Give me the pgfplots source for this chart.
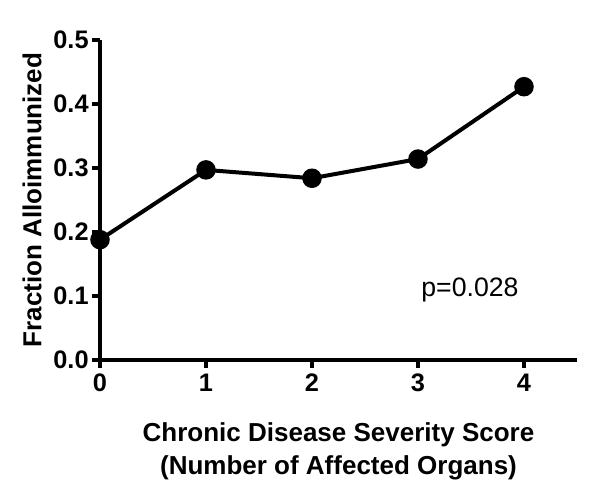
\documentclass[border=0pt]{standalone}
\usepackage{pgfplots}
\pgfplotsset{compat=1.18}
\usepackage{fontspec}
\setmainfont{Liberation Sans}
\begin{document}
\begin{tikzpicture}
\begin{axis}[
  scale only axis,
  width=357.75pt, height=240pt,
  xmin=0, xmax=4.5, ymin=0, ymax=0.5,
  axis x line*=bottom, axis y line*=left,
  axis line style={line width=3pt, -},
  xtick={0,1,2,3,4}, ytick={0,0.1,0.2,0.3,0.4,0.5},
  yticklabels={0.0,0.1,0.2,0.3,0.4,0.5},
  tick align=outside,
  major tick length=6pt,
  every tick/.style={line width=2.5pt, black},
  tick label style={font=\fontsize{19}{22}\selectfont\bfseries},
  /pgf/number format/assume math mode=true,
  yticklabel style={xshift=1pt},
  xticklabel style={yshift=-1pt},
  xlabel={Chronic Disease Severity Score\\(Number of Affected Organs)},
  xlabel style={font=\fontsize{19.5}{25}\selectfont\bfseries, align=center, yshift=-16pt},
  ylabel={Fraction Alloimmunized},
  ylabel style={font=\fontsize{19.5}{23}\selectfont\bfseries, yshift=2pt},
  clip=false,
]
\addplot[line width=3pt, black, mark=*, mark size=5.8pt, mark options={fill=black}]
  coordinates {(0,0.188) (1,0.297) (2,0.284) (3,0.314) (4,0.427)};
\node[font=\fontsize{20}{24}\selectfont] at (axis cs:3.49,0.109) {p=0.028};
\end{axis}
\pgfresetboundingbox
\path ([xshift=-75pt,yshift=-96pt]current axis.south west) rectangle ([xshift=17.25pt,yshift=30pt]current axis.north east);
\end{tikzpicture}
\end{document}
